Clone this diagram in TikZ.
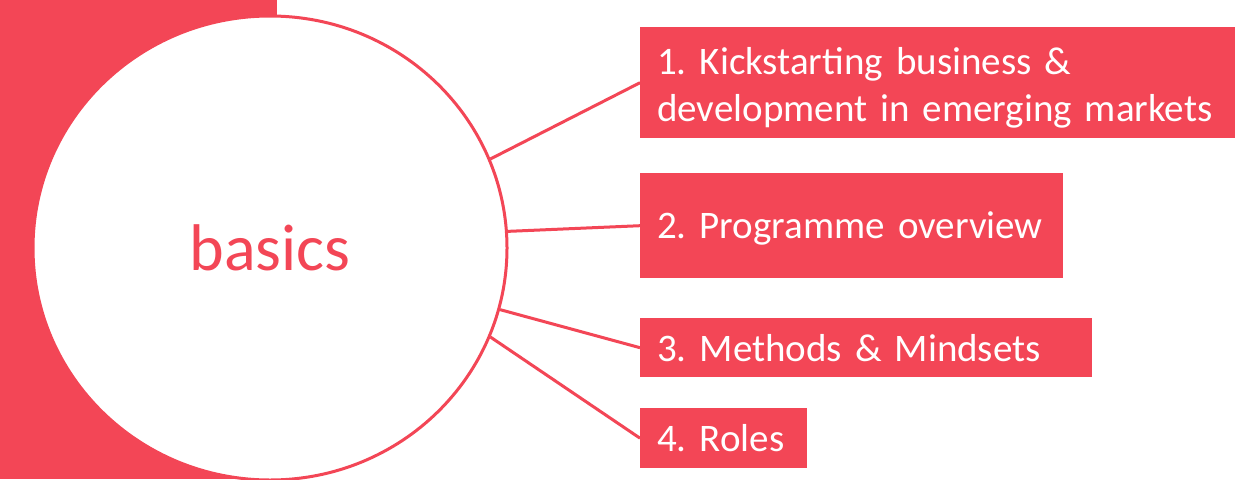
\documentclass[tikz,border=0pt]{standalone}
\usepackage{fontspec}
\setmainfont{Carlito}
\usetikzlibrary{shapes.geometric}
\definecolor{accent}{RGB}{243,70,86}
\begin{document}
\frenchspacing
\begin{tikzpicture}[x=1pt,y=-1pt,
  box/.style={fill=accent,text=white,anchor=north west,inner xsep=17pt,inner ysep=0pt,align=left,font=\fontsize{39}{47}\selectfont\frenchspacing},
  link/.style={draw=accent,line width=3pt}]
\useasboundingbox[fill=white] (0,0) rectangle (1260,479);
\fill[accent] (0,0) rectangle (277,479);
\node[ellipse,draw=accent,line width=3pt,fill=white,minimum width=474pt,minimum height=464pt,inner sep=0pt,text=accent,font=\fontsize{66}{78}\selectfont] (c) at (270,248) {basics};
\node[box,minimum width=595pt,minimum height=111pt,text width=561pt] (b1) at (640,27) {\rule{0pt}{37pt}1. Kickstarting business \&\\development in emerging markets};
\node[box,minimum width=423pt,minimum height=105pt,text width=389pt] (b2) at (640,173) {\rule{0pt}{33pt}2. Programme overview};
\node[box,minimum width=452pt,minimum height=59pt,text width=418pt] (b3) at (640,318) {3. Methods \& Mindsets};
\node[box,minimum width=167pt,minimum height=60pt,text width=133pt] (b4) at (640,408) {4. Roles};
\draw[link] (c.22) -- (b1.west);
\draw[link] (c.4) -- (b2.west);
\draw[link] (c.-15) -- (b3.west);
\draw[link] (c.-22) -- (b4.west);
\end{tikzpicture}
\end{document}
